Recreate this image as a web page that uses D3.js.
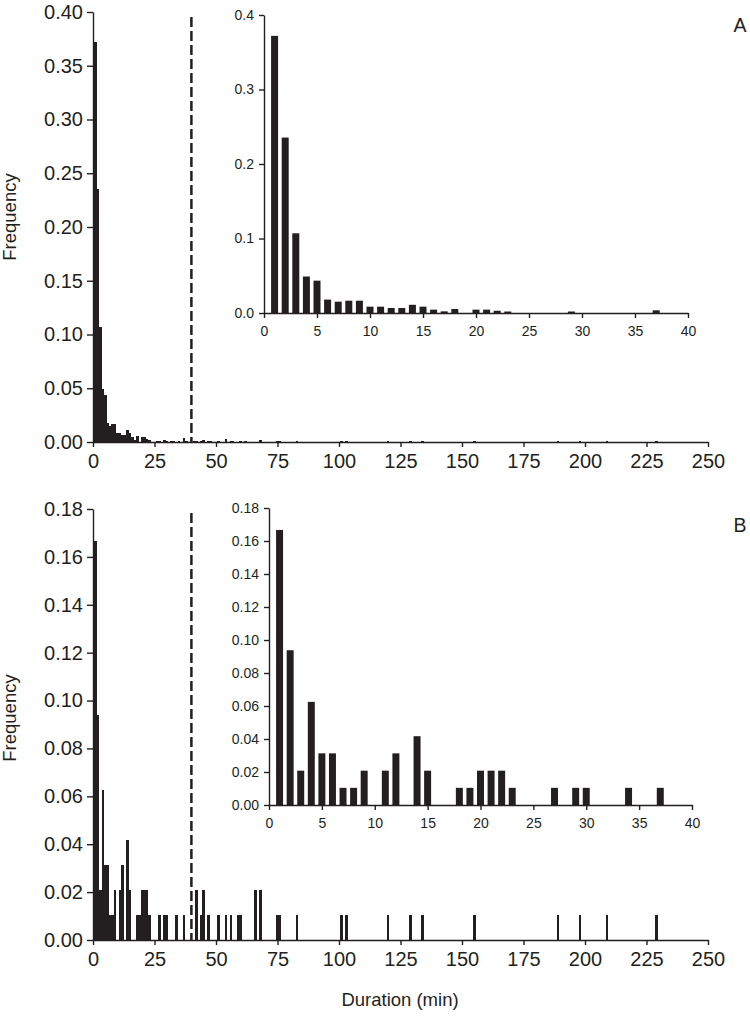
<!DOCTYPE html>
<html>
<head>
<meta charset="utf-8">
<script src="https://cdn.jsdelivr.net/npm/d3@7"></script>
<style>
  html, body { margin: 0; padding: 0; background: #fff; }
  svg { display: block; }
  text { font-family: "Liberation Sans", Arial, Helvetica, sans-serif; fill: #231f20; }
</style>
</head>
<body>
<svg id="chart" width="750" height="1019"></svg>
<script>
// ---------------- DATA ----------------
// Panel A: duration bins (min) and relative frequency
const durA = [1,2,3,4,5,6,7,8,9,10,11,12,13,14,15,16,17,18,20,21,22,23,
  26,27,29,30,32,33,35,37,38,41,42,44,45,47,48,51,54,56,57,60,62,68,75,76,83,101,103,120,129,134,155,189,198,209,229];
const freqA = [0.372,0.2355,0.107,0.049,0.0434,0.018,0.0152,0.0165,0.0165,0.0085,0.0085,0.0067,0.0067,0.011,0.0085,0.0045,0.0022,0.0054,0.0045,0.0045,0.003,0.002,
  0.001,0.001,0.002,0.001,0.001,0.001,0.001,0.0036,0.001,0.001,0.001,0.001,0.002,0.001,0.001,0.001,0.003,0.001,0.001,0.001,0.001,0.002,0.001,0.001,0.001,0.001,0.001,0.001,0.001,0.001,0.001,0.001,0.001,0.001,0.001];

// Panel B: duration bins (min) and relative frequency
const durB = [1,2,3,4,5,6,7,8,9,11,12,14,15,18,19,20,21,22,23,27,29,30,34,37,
  42,44,45,47,51,54,56,59,60,66,68,75,76,83,101,103,120,129,134,155,189,198,209,229];
const freqB = [0.1667,0.0938,0.0208,0.0625,0.0313,0.0313,0.0104,0.0104,0.0208,0.0208,0.0313,0.0417,0.0208,0.0104,0.0104,0.0208,0.0208,0.0208,0.0104,0.0104,0.0104,0.0104,0.0104,0.0104,
  0.0208,0.0104,0.0208,0.0104,0.0104,0.0104,0.0104,0.0104,0.0104,0.0208,0.0208,0.0104,0.0104,0.0104,0.0104,0.0104,0.0104,0.0104,0.0104,0.0104,0.0104,0.0104,0.0104,0.0104];

const xTicksMain = [0,25,50,75,100,125,150,175,200,225,250];
const xTicksInset = [0,5,10,15,20,25,30,35,40];
const yTicksA = [0,0.05,0.10,0.15,0.20,0.25,0.30,0.35,0.40];
const yTicksAInset = [0,0.1,0.2,0.3,0.4];
const yTicksB = [0,0.02,0.04,0.06,0.08,0.10,0.12,0.14,0.16,0.18];
const cutoff = 40;
const insetMinVisible = 0.0015;
const panelLabels = ["A","B"];
const xTitle = "Duration (min)";
const yTitle = "Frequency";

// ---------------- DRAW ----------------
const INK = "#231f20";
const svg = d3.select("#chart");

function styleAxis(g, fs) {
  g.selectAll("path.domain").attr("stroke", INK).attr("stroke-width", 1.4);
  g.selectAll(".tick line").attr("stroke", INK).attr("stroke-width", 1.4);
  g.selectAll(".tick text").attr("fill", INK).style("font-size", fs + "px")
    .style("font-family", "'Liberation Sans', Arial, sans-serif");
}

function panel(opt) {
  const data = opt.dur.map((d, i) => ({d: d, f: opt.freq[i]}));
  // main
  const x = d3.scaleLinear().domain([0, 250]).range([opt.mx0, opt.mx1]);
  const y = d3.scaleLinear().domain([0, opt.ymax]).range([opt.my0, opt.my1]);
  const g = svg.append("g");
  g.append("g").selectAll("rect").data(data).join("rect")
    .attr("x", d => x(d.d - 0.5))
    .attr("width", d => x(d.d + 0.5) - x(d.d - 0.5))
    .attr("y", d => y(d.f))
    .attr("height", d => y(0) - y(d.f))
    .attr("fill", INK).attr("shape-rendering", "crispEdges");
  const gx = g.append("g").attr("transform", `translate(0,${opt.my0})`)
    .call(d3.axisBottom(x).tickValues(xTicksMain).tickSizeInner(5).tickSizeOuter(0).tickPadding(7).tickFormat(d3.format("d")));
  styleAxis(gx, opt.fs);
  const gy = g.append("g").attr("transform", `translate(${opt.mx0},0)`)
    .call(d3.axisLeft(y).tickValues(opt.yTicks).tickSizeInner(6).tickSizeOuter(0).tickPadding(4).tickFormat(d3.format(".2f")));
  styleAxis(gy, opt.fs);
  // dashed cutoff
  g.append("line").attr("x1", x(cutoff)).attr("x2", x(cutoff))
    .attr("y1", opt.dashTop).attr("y2", opt.my0)
    .attr("stroke", INK).attr("stroke-width", 2.5).attr("stroke-dasharray", "10,4");
  // y title
  g.append("text").attr("transform", `translate(${opt.ytx},${opt.yty}) rotate(-90)`)
    .attr("text-anchor", "middle").style("font-size", "18.5px").text(yTitle);
  // panel letter
  g.append("text").attr("x", 740).attr("y", opt.letterY).attr("text-anchor", "middle")
    .style("font-size", "19.5px").text(opt.letter);

  // inset
  const inset = data.filter(d => d.d <= cutoff && d.f >= insetMinVisible);
  const xi = d3.scaleLinear().domain([0, 40]).range([opt.ix0, opt.ix1]);
  const yi = d3.scaleLinear().domain([0, opt.iymax]).range([opt.iy0, opt.iy1]);
  const gi = svg.append("g");
  gi.append("g").selectAll("rect").data(inset).join("rect")
    .attr("x", d => xi(d.d - 0.33))
    .attr("width", d => xi(d.d + 0.33) - xi(d.d - 0.33))
    .attr("y", d => yi(d.f))
    .attr("height", d => yi(0) - yi(d.f))
    .attr("fill", INK);
  const gix = gi.append("g").attr("transform", `translate(0,${opt.iy0})`)
    .call(d3.axisBottom(xi).tickValues(xTicksInset).tickSizeInner(5).tickSizeOuter(0).tickPadding(8).tickFormat(d3.format("d")));
  styleAxis(gix, 14);
  const giy = gi.append("g").attr("transform", `translate(${opt.ix0},0)`)
    .call(d3.axisLeft(yi).tickValues(opt.iyTicks).tickSizeInner(5).tickSizeOuter(0).tickPadding(5).tickFormat(d3.format(opt.ifmt)));
  styleAxis(giy, 14);
}

panel({
  dur: durA, freq: freqA, ymax: 0.40, yTicks: yTicksA,
  mx0: 93, mx1: 708, my0: 442, my1: 12, dashTop: 17,
  fs: 20, ytx: 16, yty: 217, letter: panelLabels[0], letterY: 32,
  ix0: 264, ix1: 688, iy0: 313, iy1: 15, iymax: 0.4, iyTicks: yTicksAInset, ifmt: ".1f"
});
panel({
  dur: durB, freq: freqB, ymax: 0.18, yTicks: yTicksB,
  mx0: 93, mx1: 708, my0: 940, my1: 509, dashTop: 513,
  fs: 20, ytx: 16, yty: 718, letter: panelLabels[1], letterY: 532,
  ix0: 269, ix1: 692, iy0: 805, iy1: 508, iymax: 0.18, iyTicks: yTicksB, ifmt: ".2f"
});

svg.append("text").attr("x", 400).attr("y", 1006).attr("text-anchor", "middle")
  .style("font-size", "18.5px").text(xTitle);
</script>
</body>
</html>
